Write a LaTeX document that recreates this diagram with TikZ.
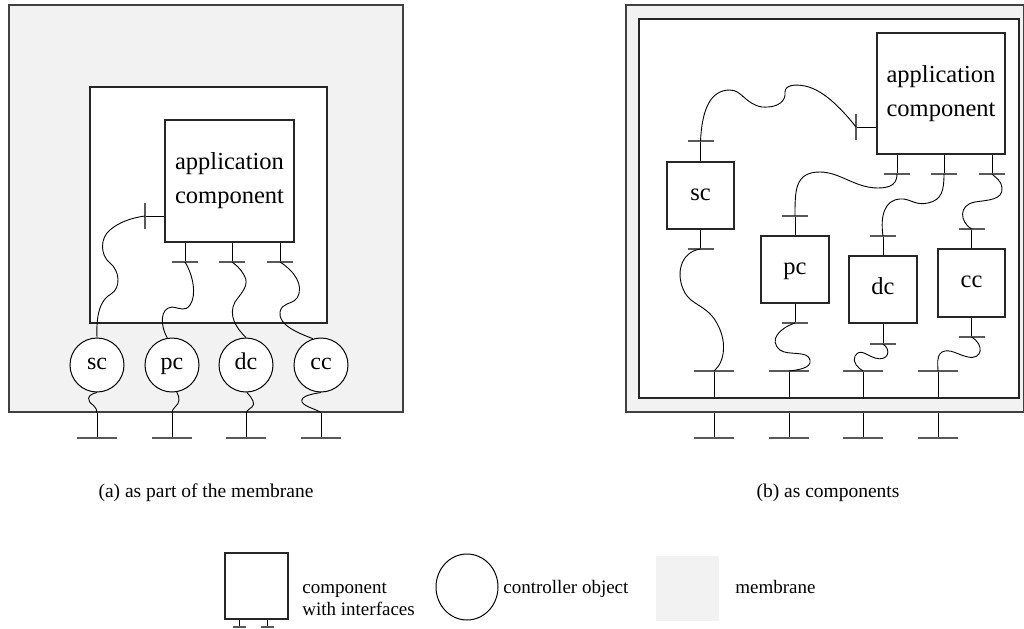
\documentclass[tikz,border=0pt]{standalone}
\usepackage{fontspec}
\setmainfont{Liberation Serif}
\usetikzlibrary{shapes.geometric}

\tikzset{
  membrane/.style={draw=black!75, fill=gray!10, line width=0.6pt, inner sep=0pt},
  frame/.style={draw=black!85, fill=white, line width=0.55pt, inner sep=0pt},
  comp/.style={draw=black!85, fill=white, line width=0.55pt, inner sep=0pt,
    align=center, font=\fontsize{12.25pt}{17pt}\selectfont},
  % single short labels: the x-height is centred in the shape
  short/.style={text height=0.45em, text depth=0pt},
  ctrl/.style={circle, draw=black, fill=white, line width=0.5pt, inner sep=0pt,
    minimum size=27pt, font=\fontsize{12pt}{14pt}\selectfont, short},
  wire/.style={draw=black, line width=0.45pt},
  stem/.style={draw=black, line width=0.5pt},
  bar/.style={draw=black!65, line width=0.8pt},
  caption/.style={font=\fontsize{9.75pt}{11pt}\selectfont, inner sep=0pt},
  legend/.style={font=\fontsize{9.5pt}{11pt}\selectfont, inner sep=0pt, align=left},
}

\begin{document}
\begin{tikzpicture}[x=0.5pt, y=-0.5pt]
\useasboundingbox (0,0) rectangle (1024,628);

% ---------------- (a) controllers as part of the membrane ----------------
\node[membrane, minimum width=197pt, minimum height=203.5pt] (memA) at (206,208.5) {};
\node[frame, minimum width=118.5pt, minimum height=118pt] (inA) at (208.5,205) {};
\node[comp, minimum width=64.5pt, minimum height=61pt] (appA) at (229.5,181) {application\\component};

% interfaces of the application component
\coordinate (aL) at (145,216);
\coordinate (a1) at (185,262);
\coordinate (a2) at (232,262);
\coordinate (a3) at (280,262);
\draw[stem] (aL -| appA.west) -- (aL);
\draw[bar] ([yshift=-6.5pt]aL) -- ([yshift=6.5pt]aL);
\foreach \p in {a1,a2,a3}{
  \draw[stem] (appA.south -| \p) -- (\p);
  \draw[bar] ([xshift=-6.5pt]\p) -- ([xshift=6.5pt]\p);
}

% controller objects
\node[ctrl] (scA) at (97,365) {sc};
\node[ctrl] (pcA) at (172,365) {pc};
\node[ctrl] (dcA) at (246,365) {dc};
\node[ctrl] (ccA) at (321,365) {cc};

% external interfaces of the membrane
\foreach \i/\x in {1/97,2/172,3/246,4/321}{
  \coordinate (tA\i) at (\x,438);
  \coordinate (mA\i) at (memA.south -| tA\i);
  \draw[stem] (mA\i) -- (tA\i);
  \draw[bar] ([xshift=-10pt]tA\i) -- ([xshift=10pt]tA\i);
}

% bindings inside the membrane
\draw[wire] (scA.north) .. controls (96,315) and (100,300) .. (111,294)
  .. controls (121,288) and (120,271) .. (110,263)
  .. controls (100,255) and (100,238) .. (110,230)
  .. controls (118,223) and (130,218) .. (aL);
\draw[wire] (pcA.100) .. controls (160,325) and (160,308) .. (172,307)
  .. controls (180,308) and (185,312) .. (190,305)
  .. controls (197,295) and (193,275) .. (a1);
\draw[wire] (dcA.north) .. controls (236,328) and (228,315) .. (235,302)
  .. controls (242,292) and (250,285) .. (244,275)
  .. controls (240,268) and (236,265) .. (a2);
\draw[wire] (ccA.107) .. controls (298,333) and (278,325) .. (280,312)
  .. controls (282,302) and (292,305) .. (297,298)
  .. controls (305,285) and (293,270) .. (a3);

\draw[wire] (scA.south) .. controls (86,395) and (87,401) .. (93,405)
  .. controls (96,408) and (97,410) .. (mA1);
\draw[wire] (pcA.-80) .. controls (180,398) and (180,403) .. (175,407)
  .. controls (173,409) and (172,411) .. (mA2);
\draw[wire] (dcA.-88) .. controls (252,398) and (256,404) .. (252,407)
  .. controls (249,409) and (247,411) .. (mA3);
\draw[wire] (ccA.south) .. controls (312,394) and (300,396) .. (302,402)
  .. controls (305,407) and (316,409) .. (mA4);

\node[caption, anchor=base] (capA) at (206,497) {(a) as part of the membrane};

% ---------------- (b) controllers as components ----------------
\node[membrane, minimum width=198.75pt, minimum height=203.5pt] (memB) at (824.75,208.5) {};
\node[frame, minimum width=190pt, minimum height=189.5pt] (inB) at (829,208.5) {};
\node[comp, minimum width=64pt, minimum height=60.5pt] (appB) at (941,93.5) {application\\component};

\node[comp, short, minimum width=33.5pt, minimum height=33.5pt] (scB) at (700.5,195.5) {sc};
\node[comp, short, minimum width=34pt, minimum height=33.5pt] (pcB) at (795,269.5) {pc};
\node[comp, short, minimum width=34pt, minimum height=33.5pt] (dcB) at (883,289.5) {dc};
\node[comp, short, minimum width=33.5pt, minimum height=34pt] (ccB) at (971.5,283) {cc};

% interfaces of the application component
\coordinate (bL) at (856,127);
\coordinate (b1) at (897,174);
\coordinate (b2) at (944,174);
\coordinate (b3) at (992,174);
\draw[stem] (bL -| appB.west) -- (bL);
\draw[bar] ([yshift=-6.5pt]bL) -- ([yshift=6.5pt]bL);
\foreach \p in {b1,b2,b3}{
  \draw[stem] (appB.south -| \p) -- (\p);
  \draw[bar] ([xshift=-6.5pt]\p) -- ([xshift=6.5pt]\p);
}

% interfaces of the controller components
\coordinate (scT) at (700.5,141);  \coordinate (scD) at (700.5,249);
\coordinate (pcT) at (795,216);    \coordinate (pcD) at (795,323);
\coordinate (dcT) at (883,236);    \coordinate (dcD) at (883,344);
\coordinate (ccT) at (971.5,229);  \coordinate (ccD) at (971.5,337);
\foreach \n in {sc,pc,dc,cc}{
  \draw[stem] (\n B.north -| \n T) -- (\n T);
  \draw[bar] ([xshift=-6.5pt]\n T) -- ([xshift=6.5pt]\n T);
  \draw[stem] (\n B.south -| \n D) -- (\n D);
  \draw[bar] ([xshift=-6.5pt]\n D) -- ([xshift=6.5pt]\n D);
}

% internal and external interfaces of the membrane
\foreach \i/\x in {1/714,2/789,3/863,4/938}{
  \coordinate (iB\i) at (\x,371);
  \draw[stem] (iB\i) -- (inB.south -| iB\i);
  \draw[bar] ([xshift=-10pt]iB\i) -- ([xshift=10pt]iB\i);
  \coordinate (tB\i) at (\x,438);
  \draw[stem] (memB.south -| tB\i) -- (tB\i);
  \draw[bar] ([xshift=-10pt]tB\i) -- ([xshift=10pt]tB\i);
}

% bindings
\draw[wire] (scT) .. controls (702,110) and (710,90) .. (730,90)
  .. controls (742,90) and (745,104) .. (762,107)
  .. controls (780,108) and (786,100) .. (785,92)
  .. controls (785,85) and (795,84) .. (805,86)
  .. controls (825,90) and (845,113) .. (bL);
\draw[wire] (pcT) .. controls (795,190) and (795,172) .. (820,172)
  .. controls (840,172) and (855,188) .. (878,188)
  .. controls (892,188) and (897,183) .. (b1);
\draw[wire] (dcT) .. controls (880,215) and (885,200) .. (900,199)
  .. controls (910,198) and (915,206) .. (928,203)
  .. controls (942,200) and (944,190) .. (b2);
\draw[wire] (ccT) .. controls (960,222) and (958,205) .. (975,202)
  .. controls (988,200) and (1003,200) .. (1002,188)
  .. controls (1001,180) and (996,178) .. (b3);

\draw[wire] (scD) .. controls (680,252) and (675,275) .. (685,293)
  .. controls (692,305) and (705,305) .. (715,320)
  .. controls (728,340) and (725,362) .. (iB1);
\draw[wire] (pcD) .. controls (780,328) and (768,340) .. (780,350)
  .. controls (788,356) and (808,350) .. (810,360)
  .. controls (812,368) and (798,370) .. (iB2);
\draw[wire] (dcD) .. controls (892,350) and (888,362) .. (875,358)
  .. controls (866,355) and (860,348) .. (855,356)
  .. controls (852,362) and (858,368) .. (iB3);
\draw[wire] (ccD) .. controls (985,345) and (982,360) .. (968,357)
  .. controls (958,355) and (950,348) .. (942,352)
  .. controls (936,356) and (938,365) .. (iB4);

\node[caption, anchor=base] (capB) at (828,497) {(b) as components};

% ---------------- legend ----------------
\node[frame, minimum width=31.5pt, minimum height=33pt] (keyComp) at (256.5,586) {};
\foreach \i/\x in {1/239,2/267}{
  \coordinate (kI\i) at (\x,627);
  \draw[stem] (keyComp.south -| kI\i) -- (kI\i);
  \draw[bar] ([xshift=-3.25pt]kI\i) -- ([xshift=3.25pt]kI\i);
}
% base anchor of a two-line node sits on its last line
\node[legend, anchor=base west] (keyCompTxt) at (302,615) {component\\with interfaces};

\node[ellipse, draw=black, line width=0.5pt, minimum width=31pt, minimum height=33pt,
  inner sep=0pt] (keyCtrl) at (467,587) {};
\node[legend, anchor=base west] (keyCtrlTxt) at (503,593) {controller object};

\node[fill=gray!10, minimum width=31.5pt, minimum height=32.5pt, inner sep=0pt] (keyMem) at (687.5,588.5) {};
\node[legend, anchor=base west] (keyMemTxt) at (735,593) {membrane};
\end{tikzpicture}
\end{document}
